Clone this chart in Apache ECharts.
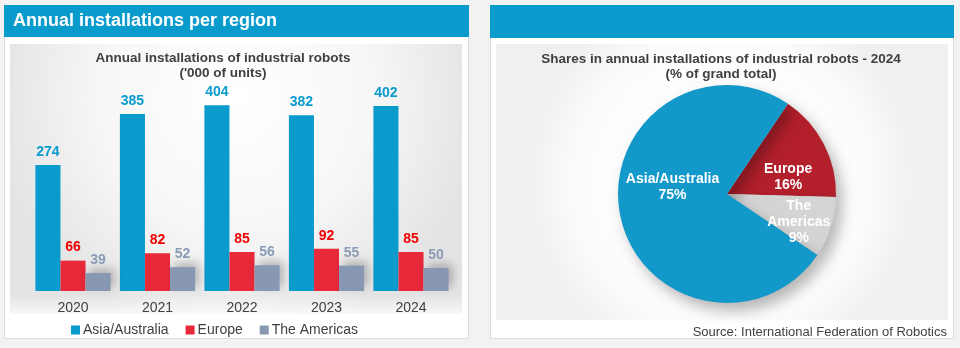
<!DOCTYPE html>
<html><head><meta charset="utf-8">
<script src="https://cdn.jsdelivr.net/npm/echarts@6/dist/echarts.min.js"></script>
<style>html,body{margin:0;padding:0;background:#f2f2f2;}#c{width:960px;height:348px;}</style>
</head><body><div id="c"></div>
<script>
var years = ['2020','2021','2022','2023','2024'];
var asia = [274,385,404,382,402];
var europe = [66,82,85,92,85];
var americas = [39,52,56,55,50];
var pieNames = ['Europe','The\nAmericas','Asia/Australia'];
var pieShares = [16,9,75];
var pieColors = ['#b31f2b','#d4d4d4','#1298c9'];

var FONT = '"Liberation Sans", Arial, sans-serif';
var chart = echarts.init(document.getElementById('c'));

var labelDx = [10, 17, 2];
var labelDy = [9, 11, -18];

chart.setOption({
  animation: false,
  backgroundColor: '#f2f2f2',
  textStyle: {fontFamily: FONT},
  graphic: [
    {type:'rect', z:-10, shape:{x:4.5,y:5.5,width:464,height:333}, style:{fill:'#ffffff', stroke:'#dcdcdc', lineWidth:1}},
    {type:'rect', z:-9, shape:{x:10,y:44,width:452,height:270}, style:{fill:{type:'radial',x:0.5,y:0.2,r:0.9,colorStops:[{offset:0,color:'#ffffff'},{offset:0.55,color:'#f7f7f7'},{offset:1,color:'#e4e4e4'}]}}},
    {type:'rect', z:-9, shape:{x:10,y:296,width:452,height:24}, style:{fill:{type:'linear',x:0,y:0,x2:0,y2:1,colorStops:[{offset:0,color:'rgba(255,255,255,0)'},{offset:1,color:'#ffffff'}]}}},
    {type:'rect', z:-8, shape:{x:4,y:5,width:465,height:32}, style:{fill:'#0a9bcd'}},
    {type:'text', z:5, left:13, top:12, style:{text:'Annual installations per region', fill:'#ffffff', font:'bold 18px ' + FONT}},
    {type:'rect', z:-10, shape:{x:490.5,y:5.5,width:463,height:333}, style:{fill:'#ffffff', stroke:'#dcdcdc', lineWidth:1}},
    {type:'rect', z:-9, shape:{x:496,y:44,width:452,height:276}, style:{fill:{type:'radial',x:0.5,y:0.5,r:0.7,colorStops:[{offset:0,color:'#ffffff'},{offset:0.75,color:'#fcfcfc'},{offset:1,color:'#f0f0f0'}]}}},
    {type:'rect', z:-8, shape:{x:490,y:5,width:464,height:33}, style:{fill:'#0a9bcd'}}
  ],
  title: [
    {text:"Annual installations of industrial robots\n('000 of units)", left:218, top:46, textAlign:'center',
     textStyle:{fontFamily:FONT, fontSize:13.5, fontWeight:'bold', color:'#404040', lineHeight:15}},
    {text:"Shares in annual installations of industrial robots - 2024\n(% of grand total)", left:716, top:47, textAlign:'center',
     textStyle:{fontFamily:FONT, fontSize:13.5, fontWeight:'bold', color:'#404040', lineHeight:15}},
    {text:'Source: International Federation of Robotics', right:8, top:321,
     textStyle:{fontFamily:FONT, fontSize:13, fontWeight:'normal', color:'#404040'}}
  ],
  legend: {
    left: 66, top: 318, itemWidth: 9, itemHeight: 9, itemGap: 17,
    icon: 'rect',
    textStyle: {fontFamily: FONT, fontSize: 14, color: '#404040', padding:[0,0,0,-2]},
    data: ['Asia/Australia','Europe','The Americas']
  },
  grid: {left: 30.75, right: 506.75, top: 84, bottom: 57},
  xAxis: {type:'category', data: years, axisLine:{show:false}, axisTick:{show:false},
    axisLabel:{fontFamily:FONT, fontSize:14, color:'#404040', margin:10}},
  yAxis: {type:'value', min:0, max:450, show:false, splitLine:{show:false}},
  series: [
    {name:'Asia/Australia', type:'bar', data: asia, barGap:'0%', barCategoryGap:'11%',
     itemStyle:{color:'#0a9bcd'},
     label:{show:true, position:'top', distance:6, fontFamily:FONT, fontSize:14, fontWeight:'bold', color:'#0a9bcd'}},
    {name:'Europe', type:'bar', data: europe,
     itemStyle:{color:'#e8293a'},
     label:{show:true, position:'top', distance:6, fontFamily:FONT, fontSize:14, fontWeight:'bold', color:'#f00000'}},
    {name:'The Americas', type:'bar', data: americas,
     itemStyle:{color:'#8898b2', shadowBlur:10, shadowColor:'rgba(0,0,0,0.25)', shadowOffsetX:4, shadowOffsetY:-4},
     label:{show:true, position:'top', distance:6, fontFamily:FONT, fontSize:14, fontWeight:'bold', color:'#8a9bb5'}},
    {name:'shares', type:'pie', center:[727,194], radius:[0,109], startAngle:56, clockwise:true,
     avoidLabelOverlap:false,
     data: pieNames.map(function(n,i){return {name:n, value:pieShares[i], itemStyle:{color:pieColors[i]}};}),
     itemStyle:{shadowBlur:14, shadowColor:'rgba(0,0,0,0.28)', shadowOffsetX:6, shadowOffsetY:8, borderWidth:0},
     label:{show:true, position:'inside', formatter:function(p){return p.name + '\n' + p.value + '%';},
       fontFamily:FONT, fontSize:14, fontWeight:'bold', color:'#ffffff', lineHeight:16},
     labelLine:{show:false},
     labelLayout:function(p){return {dx:labelDx[p.dataIndex], dy:labelDy[p.dataIndex]};},
     emphasis:{disabled:true}
    }
  ]
});
</script></body></html>
